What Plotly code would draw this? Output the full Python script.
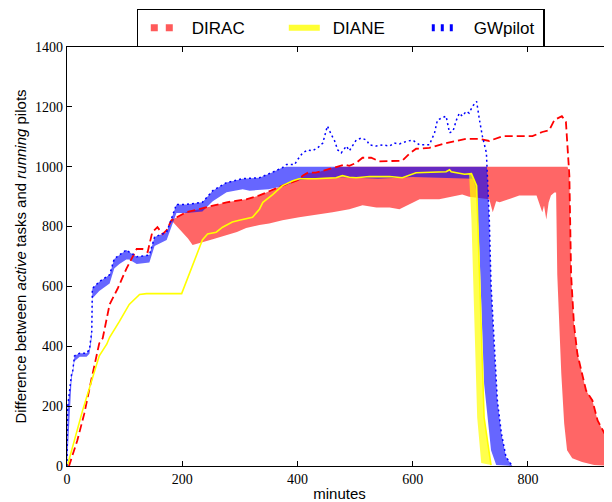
import plotly.graph_objects as go

CAP = 1000

# DIRAC (red dashed line) and its band lower edge
dirac_x = [2, 4, 18, 30, 43, 51, 56, 62, 74, 88, 103, 121, 131, 140, 148, 157, 166, 173, 181,
           207, 242, 277, 311, 334, 374, 403, 409, 418, 432, 450, 468, 482, 490, 502, 513, 528,
           542, 560, 582, 594, 606, 629, 658, 693, 716, 733, 756, 790, 808, 825, 837, 846, 859,
           866, 869, 872, 875, 880, 886, 894, 901, 912, 915, 921, 933, 941, 950]
dirac_y = [0, 3, 86, 175, 295, 368, 410, 427, 540, 593, 659, 725, 725, 715, 781, 798, 775, 788, 821,
           848, 864, 881, 891, 904, 937, 957, 970, 980, 980, 990, 1000, 1007, 1003, 1013, 1030, 1030,
           1018, 1018, 1020, 1043, 1060, 1063, 1079, 1093, 1093, 1086, 1102, 1102, 1102, 1116, 1122, 1156, 1169,
           1150, 1050, 970, 639, 473, 374, 308, 252, 219, 195, 152, 109, 96, 80]
dirac_lo_x = [181, 190, 200, 210, 218, 226, 235, 253, 277, 295, 311, 334, 351, 374, 403, 433, 461,
              490, 513, 537, 560, 577, 612, 646, 686, 698, 720, 733, 739, 745, 751, 785, 815, 820,
              825, 828, 832, 836, 840, 846, 849, 851, 858, 863, 868, 877, 894, 915, 950]
dirac_lo_y = [821, 800, 781, 760, 738, 742, 748, 758, 771, 782, 795, 805, 810, 821, 831, 841, 848,
              858, 871, 864, 864, 858, 891, 891, 907, 900, 895, 891, 848, 885, 881, 904, 904, 880,
              848, 870, 824, 880, 904, 914, 914, 639, 308, 142, 53, 26, 13, 3, 0]

# DIANE (yellow solid line) and its band lower edge
diane_x = [0, 1, 27, 44, 56, 69, 74, 91, 108, 126, 138, 199, 207, 225, 235, 244, 259, 270, 287, 299,
           322, 334, 340, 357, 374, 392, 403, 432, 467, 478, 490, 502, 525, 560, 582, 606, 658, 664,
           667, 690, 702, 711, 716, 724, 736]
diane_y = [0, 3, 185, 295, 368, 407, 430, 483, 540, 573, 576, 576, 616, 705, 755, 775, 781, 798, 815, 821,
           831, 858, 881, 907, 937, 953, 960, 960, 963, 970, 965, 963, 967, 967, 963, 980, 983, 990,
           983, 975, 977, 937, 606, 162, 3]
diane_lo_x = [690, 698, 702, 707, 712, 719, 736]
diane_lo_y = [975, 974, 824, 493, 162, 10, 3]

# GWpilot (blue dotted line) and its band lower edge
gw_x = [0, 1, 8, 10, 13, 22, 34, 39, 43, 44, 56, 74, 82, 91, 103, 108, 121, 143, 152, 173, 178, 190,
        207, 235, 253, 277, 305, 334, 355, 374, 381, 395, 400, 409, 418, 426, 435, 444, 450, 452, 459,
        464, 470, 476, 485, 490, 502, 511, 520, 525, 537, 548, 560, 568, 577, 590, 600, 612, 629, 638,
        643, 650, 658, 664, 670, 676, 681, 686, 693, 698, 704, 711, 712, 716, 721, 728, 729, 733, 736,
        742, 747, 754, 762, 773]
gw_y = [0, 195, 308, 318, 368, 377, 377, 390, 450, 593, 616, 639, 692, 705, 722, 715, 699, 705, 765, 781,
        808, 874, 874, 881, 920, 947, 960, 963, 980, 997, 1007, 1007, 1023, 1046, 1056, 1053, 1063, 1079,
        1122, 1136, 1106, 1089, 1056, 1046, 1069, 1053, 1089, 1096, 1089, 1073, 1069, 1073, 1069, 1079,
        1076, 1085, 1089, 1073, 1073, 1113, 1156, 1162, 1169, 1113, 1119, 1156, 1179, 1169, 1185, 1179,
        1202, 1218, 1202, 1156, 1102, 1046, 1000, 824, 606, 384, 219, 109, 30, 0]
gw_lo_x = [0, 8, 13, 22, 34, 39, 43, 44, 56, 74, 82, 91, 103, 108, 121, 143, 152, 173, 178, 190, 207,
           235, 253, 277, 305, 317, 350, 374, 403, 430, 480, 540, 600, 650, 705, 711, 716, 724, 736, 745, 773]
gw_lo_y = [0, 290, 350, 365, 365, 375, 430, 560, 585, 610, 660, 675, 690, 690, 675, 680, 735, 755, 780,
           845, 845, 850, 885, 915, 925, 920, 925, 935, 955, 962, 965, 960, 966, 962, 960, 914, 715, 275,
           53, 3, 0]

x_ticks = [0, 200, 400, 600, 800]
y_ticks = [0, 200, 400, 600, 800, 1000, 1200, 1400]


def band_polygon(line_x, line_y, lo_x, lo_y, cap):
    ux, uy = [], []
    for x, y in zip(line_x, line_y):
        if lo_x[0] <= x <= lo_x[-1]:
            ux.append(x)
            uy.append(min(y, cap))
    return ux + lo_x[::-1], uy + lo_y[::-1]


fig = go.Figure()

for (lx, ly, bx, by, col) in [
    (dirac_x, dirac_y, dirac_lo_x, dirac_lo_y, "rgba(255,0,0,0.6)"),
    (gw_x, gw_y, gw_lo_x, gw_lo_y, "rgba(0,0,255,0.6)"),
    (diane_x, diane_y, diane_lo_x, diane_lo_y, "rgba(255,255,0,0.7)"),
]:
    px, py = band_polygon(lx, ly, bx, by, CAP)
    fig.add_trace(go.Scatter(x=px, y=py, mode="lines", fill="toself", fillcolor=col,
                             line=dict(width=0), showlegend=False, hoverinfo="skip"))

fig.add_trace(go.Scatter(x=dirac_x, y=dirac_y, mode="lines", showlegend=False,
                         line=dict(color="#ff0000", width=1.8, dash="8px,4px")))
fig.add_trace(go.Scatter(x=diane_x, y=diane_y, mode="lines", showlegend=False,
                         line=dict(color="#ffff00", width=1.6)))
fig.add_trace(go.Scatter(x=gw_x, y=gw_y, mode="lines", showlegend=False,
                         line=dict(color="#0000ff", width=1.5, dash="2px,3px")))

# legend entries
fig.add_trace(go.Scatter(x=[None], y=[None], mode="lines", name="DIRAC", legendwidth=82,
                         line=dict(color="#ff5a5a", width=7, dash="0px,8px,7px,8px,7px,100px")))
fig.add_trace(go.Scatter(x=[None], y=[None], mode="lines", name="DIANE", legendwidth=82,
                         line=dict(color="#ffff33", width=6, dash="0px,5px,31px,100px")))
fig.add_trace(go.Scatter(x=[None], y=[None], mode="lines", name="GWpilot", legendwidth=64,
                         line=dict(color="#0000ff", width=7,
                                   dash="0px,7px,3px,6px,3px,6px,3px,100px")))

axis_common = dict(showgrid=False, zeroline=False, showline=True, linecolor="black", linewidth=1.2,
                   ticks="inside", ticklen=5, tickcolor="black", mirror="ticks", automargin=False,
                   tickfont=dict(family="Liberation Serif", size=14, color="black"))

fig.update_layout(
    width=604, height=494,
    margin=dict(l=59, r=0, t=35, b=36),
    paper_bgcolor="white", plot_bgcolor="white",
    font=dict(family="Liberation Sans", color="black"),
    legend=dict(orientation="h", xref="paper", x=0.502, xanchor="center",
                yref="container", y=0.998, yanchor="top",
                bordercolor="black", borderwidth=1.2, bgcolor="white", itemwidth=44,
                font=dict(family="Liberation Sans", size=17)),
    xaxis=dict(range=[0, 946], tickvals=x_ticks,
               title=dict(text="minutes", font=dict(size=15), standoff=2), **axis_common),
    yaxis=dict(range=[0, 1400], tickvals=y_ticks,
               title=dict(text="Difference between <i>active</i> tasks and <i>running</i> pilots",
                          font=dict(size=15), standoff=4), **axis_common),
)

fig.write_html("out.html")
